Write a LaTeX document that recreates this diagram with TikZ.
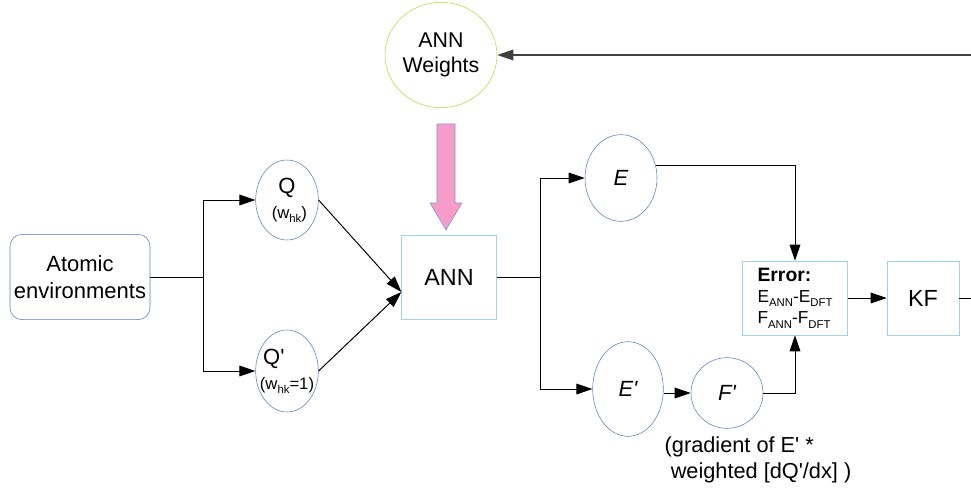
\documentclass[tikz,border=0pt]{standalone}
\usepackage{fontspec}
\setmainfont{Liberation Sans}
\usepackage{tikz}
\usetikzlibrary{shapes.geometric, arrows.meta, positioning, calc}

\definecolor{ovalblue}{HTML}{4F7FC0}
\definecolor{boxblue}{HTML}{A3D1F5}
\definecolor{wtgreen}{HTML}{C2D22E}
\definecolor{arrpink}{HTML}{F79BC8}

\newcommand{\tick}{\textquotesingle}
\newcommand{\lsub}[1]{\raisebox{-0.45ex}{\fontsize{8.5}{9}\selectfont #1}}

\begin{document}
\begin{tikzpicture}[x=0.75pt, y=-0.75pt,
  oval/.style={ellipse, draw=ovalblue, inner sep=0pt, align=center, font=\fontsize{16.5}{19}\selectfont},
  blk/.style={rectangle, draw=boxblue, inner sep=0pt, align=center, font=\fontsize{17.5}{19}\selectfont},
  con/.style={-{Triangle[length=12pt,width=8pt]}, line width=0.75pt},
  wsub/.style={font=\fontsize{12.5}{14}\selectfont}
]
  \useasboundingbox (0,0) rectangle (971,489);

  % inputs
  \node[rectangle, rounded corners=9pt, draw=ovalblue, inner sep=0pt, minimum width=105pt, minimum height=64pt, align=center, font=\fontsize{16.5}{20}\selectfont] (atom) at (80,277) {Atomic\\environments};
  \node[oval, minimum width=47pt, minimum height=60pt] (q) at (287,200) {Q\\\makebox[0pt]{\fontsize{12.5}{14}\selectfont\ (w\lsub{hk})}};
  \node[oval, minimum width=47pt, minimum height=61.5pt] (qp) at (287,371) {\makebox[0pt]{Q\tick\hspace{1.2em}}\\\makebox[0pt]{\fontsize{12.5}{14}\selectfont(w\lsub{hk}=1)}};

  % network and weights
  \node[blk, minimum width=71pt, minimum height=63pt] (ann) at (449,277) {ANN};
  \node[ellipse, draw=wtgreen, inner sep=0pt, minimum width=84pt, minimum height=79pt, align=center, font=\fontsize{16}{19}\selectfont] (wts) at (441,55) {ANN\\Weights};
  \draw[draw=ovalblue!80, fill=arrpink] (437,124) -- (455,124) -- (455,203) -- (462,203) -- (446,230) -- (430,203) -- (437,203) -- cycle;

  % outputs
  \node[oval, minimum width=54pt, minimum height=65pt] (e) at (621,178) {\itshape E};
  \node[oval, minimum width=53pt, minimum height=71pt] (ep) at (628,389) {\itshape E\tick};
  \node[oval, minimum width=54pt, minimum height=53pt] (fp) at (727,393) {\itshape F\tick};
  \node[font=\fontsize{16.3}{19.5}\selectfont, align=left] (grad) at (758,460) {(gradient of E\tick{} *\\ \ weighted [dQ\tick/dx] )};

  \node[blk, minimum width=79pt, minimum height=55.5pt, align=left, font=\fontsize{13}{16}\selectfont] (err) at (795,298) {{\fontsize{14.5}{15}\selectfont\bfseries Error:}\\E\lsub{ANN}-E\lsub{DFT}\\F\lsub{ANN}-F\lsub{DFT}};
  \node[blk, minimum width=54pt, minimum height=55.5pt] (kf) at (923,298) {KF};

  % connectors
  \coordinate (fork1) at ($(atom.east)+(53,0)$);
  \draw[line width=0.75pt] (atom.east) -- (fork1);
  \draw[con] (fork1) |- (q.west);
  \draw[con] (fork1) |- (qp.west);
  \coordinate (annin) at ($(ann.west)+(0,15)$);
  \draw[con] (q.east) -- (annin);
  \draw[con] (qp.east) -- (annin);

  \coordinate (fork2) at ($(ann.east)+(44,0)$);
  \draw[line width=0.75pt] (ann.east) -- (fork2);
  \draw[con] (fork2) |- (e.west);
  \draw[con] (fork2) |- (ep.west);
  \draw[con] (e.19) -| (err.north);
  \draw[con] (ep.east |- fp.west) -- (fp.west);
  \draw[con] (fp.east) -| (err.south);
  \draw[con] (err) -- (kf);

  \coordinate (kfout) at (971,298);
  \draw[line width=0.75pt] (kf.east) -- (kfout);
  \coordinate (fbin) at (971,55);
  \draw[con, draw=black!75, line width=1.1pt] (fbin) -- (wts.east);
\end{tikzpicture}
\end{document}
